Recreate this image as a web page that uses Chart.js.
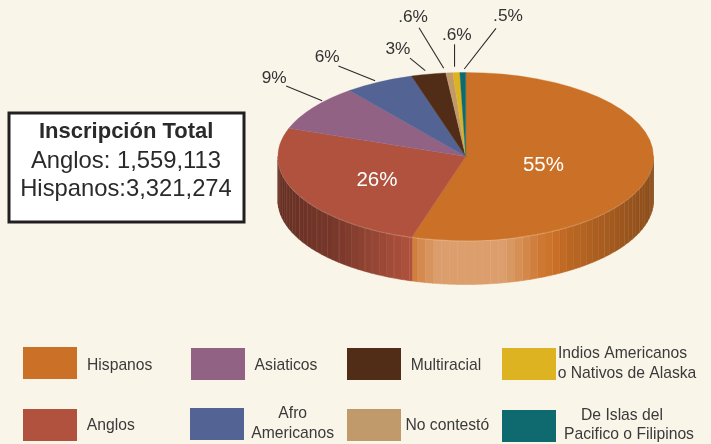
<!DOCTYPE html>
<html><head><meta charset="utf-8">
<style>html,body{margin:0;padding:0;background:#FAF5E9}canvas{display:block}</style>
<script src="https://cdn.jsdelivr.net/npm/chart.js@4"></script>
</head><body>
<canvas id="c" width="711" height="444"></canvas>
<script>
const categories = ['Hispanos','Anglos','Asiaticos','Afro Americanos','Multiracial','No contestó','Indios Americanos o Nativos de Alaska','De Islas del Pacifico o Filipinos'];
const values = [55,26,9,6,3,0.6,0.6,0.5];
const valueLabels = ['55%','26%','9%','6%','3%','.6%','.6%','.5%'];
const colors = ['#CB7027','#B1523E','#926285','#536393','#512C17','#C19A6B','#DDB322','#0E6A6E'];

const totalBoxLines = ['Inscripción Total','Anglos: 1,559,113','Hispanos:3,321,274'];

// presentation layout
const PIE = {cx:465.7, cy:156.5, ry:84, depth:44};
const labelOffset = [[-108,-3.6],[78.7,-13.8],[-39,-29.5],[-51.8,-25],[-30.5,-25],[-36.3,-55.8],[0.5,-37.6],[45.2,-56.5]];
const leaderOffset = [null,null,[9,-6.8,-27,-21.5],[-3.8,-1.3,-40.5,-16],[-3.2,-3.5,-18.5,-16],[-5.6,-4.5,-30.3,-45],[-1.8,-5.9,-1.8,-28.3],[1.5,-3.5,33.2,-44.2]];
const legendLayout = [
 {box:[23,347],lines:[['Hispanos',119.7,365.7]]},
 {box:[23,409],lines:[['Anglos',110.8,425.7]]},
 {box:[191,348],lines:[['Asiaticos',286,365.7]]},
 {box:[190,408],lines:[['Afro',292.7,414],['Americanos',292.7,433.7]]},
 {box:[347,348],lines:[['Multiracial',446,365.3]]},
 {box:[347,409],lines:[['No contestó',447.3,425.7]]},
 {box:[502,348],lines:[['Indios Americanos',622.5,354],['o Nativos de Alaska',627,373.7]]},
 {box:[502,410],lines:[['De Islas del',622,415.7],['Pacifico o Filipinos',629,434.3]]}
];
const shadeKnots = [[-1,-.42],[-.7,-.33],[-.5,-.16],[-.28,0],[-.27,.14],[-.15,.32],[.2,.32],[.38,.08],[.55,-.08],[.82,-.22],[1,-.32]];
const stripeAlpha = [.28,.07,.18,.1];

function shadeAt(u){
  for(let i=1;i<shadeKnots.length;i++){
    if(u<=shadeKnots[i][0]){
      const a=shadeKnots[i-1],b=shadeKnots[i];
      return a[1]+(b[1]-a[1])*(u-a[0])/(b[0]-a[0]);
    }
  }
  return shadeKnots[shadeKnots.length-1][1];
}
function shaded(hex,s){
  const n=parseInt(hex.slice(1),16),t=s>0?255:0,k=Math.abs(s);
  const f=v=>Math.round(v+(t-v)*k);
  return `rgb(${f(n>>16)},${f((n>>8)&255)},${f(n&255)})`;
}

const piePlugin = {
  id:'pie3d',
  beforeDraw(chart){
    const ctx=chart.ctx;
    ctx.save();ctx.fillStyle='#FAF5E9';ctx.fillRect(0,0,chart.width,chart.height);ctx.restore();
  },
  beforeDatasetsDraw(chart){
    const ctx=chart.ctx, arcs=chart.getDatasetMeta(0).data;
    const step=2.5*Math.PI/180;
    const r=arcs[0].outerRadius, cx=PIE.cx;
    const px=t=>cx+r*Math.sin(t), py=t=>PIE.cy-PIE.ry*Math.cos(t);
    ctx.save();
    arcs.forEach((arc,i)=>{
      const s=Math.max(arc.startAngle+Math.PI/2,Math.PI/2), e=Math.min(arc.endAngle+Math.PI/2,1.5*Math.PI);
      if(e<=s) return;
      let t=s,n=Math.floor(s/step);
      while(t<e-1e-6){
        const t2=Math.min((n+1)*step,e);
        ctx.beginPath();
        ctx.moveTo(px(t),py(t));
        const m=6;
        for(let j=1;j<=m;j++){const a=t+(t2-t)*j/m;ctx.lineTo(px(a),py(a));}
        for(let j=m;j>=0;j--){const a=t+(t2-t)*j/m;ctx.lineTo(px(a),py(a)+PIE.depth);}
        ctx.closePath();
        const col=shaded(colors[i],shadeAt(Math.sin((t+t2)/2)));
        ctx.fillStyle=col;ctx.strokeStyle=col;ctx.lineWidth=.6;ctx.fill();ctx.stroke();
        ctx.beginPath();ctx.moveTo(px(t2),py(t2));ctx.lineTo(px(t2),py(t2)+PIE.depth);
        ctx.lineWidth=1;ctx.strokeStyle=`rgba(255,235,215,${stripeAlpha[n%stripeAlpha.length]})`;ctx.stroke();
        t=t2;n++;
      }
    });
    // pale rim along the front of the top face
    ctx.beginPath();
    for(let a=Math.PI/2;a<=1.5*Math.PI;a+=.02){ctx.lineTo(px(a),py(a)+.5);}
    ctx.strokeStyle='rgba(255,225,195,.35)';ctx.lineWidth=1;ctx.stroke();
    ctx.restore();
    // squash the circle the library draws into the tilted top face
    const arc=arcs[0];
    ctx.save();
    ctx.translate(PIE.cx,PIE.cy);
    ctx.scale(1,PIE.ry/r);
    ctx.translate(-arc.x,-arc.y);
  },
  afterDatasetsDraw(chart){
    const ctx=chart.ctx, arcs=chart.getDatasetMeta(0).data;
    ctx.restore();
    const r=arcs[0].outerRadius;
    ctx.save();
    ctx.textAlign='center';ctx.textBaseline='middle';
    arcs.forEach((arc,i)=>{
      const mid=(arc.startAngle+arc.endAngle)/2+Math.PI/2;
      const rx=PIE.cx+r*Math.sin(mid), ry=PIE.cy-PIE.ry*Math.cos(mid);
      const lead=leaderOffset[i];
      if(lead){
        ctx.beginPath();ctx.moveTo(rx+lead[0],ry+lead[1]);ctx.lineTo(rx+lead[2],ry+lead[3]);
        ctx.strokeStyle='#2b2b2b';ctx.lineWidth=1.1;ctx.stroke();
      }
      const inside=!lead;
      ctx.font=(inside?'20.5px':'17.3px')+' "Liberation Sans", Arial, sans-serif';
      ctx.fillStyle=inside?'#FFFFFF':'#333333';
      ctx.fillText(valueLabels[i],rx+labelOffset[i][0],ry+labelOffset[i][1]);
    });
    // total box
    ctx.fillStyle='#FFFFFF';ctx.fillRect(9,113,235,109);
    ctx.strokeStyle='#231F20';ctx.lineWidth=3;ctx.strokeRect(9,113,235,109);
    ctx.fillStyle='#2a2a2a';
    ctx.font='bold 22px "Liberation Sans", Arial, sans-serif';
    ctx.fillText(totalBoxLines[0],126.2,132);
    ctx.font='23.8px "Liberation Sans", Arial, sans-serif';
    ctx.fillText(totalBoxLines[1],126,161.7);
    ctx.fillText(totalBoxLines[2],126,189);
    // legend
    ctx.font='15.7px "Liberation Sans", Arial, sans-serif';
    ctx.fillStyle='#3a3a3a';
    legendLayout.forEach((l,i)=>{
      ctx.save();ctx.fillStyle=colors[i];ctx.fillRect(l.box[0],l.box[1],54,32);ctx.restore();
      l.lines.forEach(t=>ctx.fillText(t[0],t[1],t[2]));
    });
    ctx.restore();
  }
};

new Chart(document.getElementById('c'),{
  type:'pie',
  data:{labels:categories,datasets:[{data:values,backgroundColor:colors,borderColor:colors,borderWidth:.5,clip:false}]},
  options:{
    responsive:false,animation:false,
    layout:{padding:{left:220,right:0,top:0,bottom:68}},
    plugins:{legend:{display:false},tooltip:{enabled:false},title:{display:false}}
  },
  plugins:[piePlugin]
});
</script>
</body></html>
